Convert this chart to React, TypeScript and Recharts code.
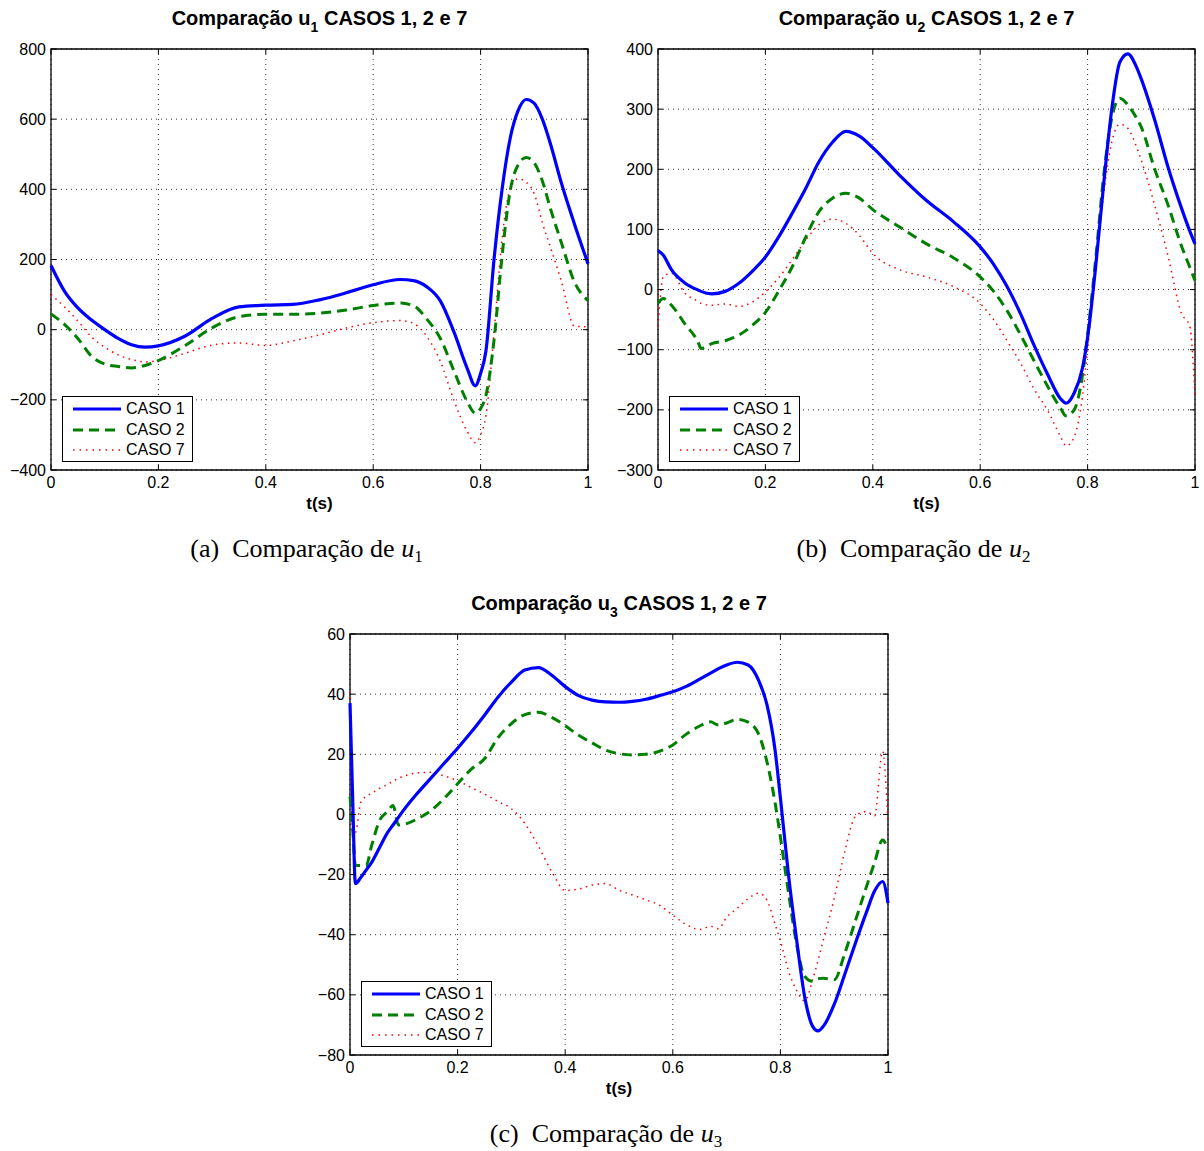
import React from 'react';
import { LineChart, Line, XAxis, YAxis, CartesianGrid, ReferenceArea } from 'recharts';

// u1
const T1 = [0, 0.025, 0.05, 0.075, 0.1, 0.125, 0.15, 0.175, 0.2, 0.25, 0.3, 0.35, 0.4, 0.45, 0.5, 0.55, 0.6, 0.65, 0.675, 0.7, 0.725, 0.75, 0.775, 0.79, 0.8, 0.81, 0.825, 0.84, 0.855, 0.87, 0.885, 0.9, 0.915, 0.93, 0.95, 0.975, 1.0];
const U1_CASO1 = [183, 110, 62, 28, 0, -25, -43, -50, -46, -18, 32, 65, 70, 72, 85, 105, 128, 143, 140, 122, 82, -5, -110, -160, -125, -60, 200, 400, 545, 625, 656, 645, 600, 530, 420, 300, 188];
const U1_CASO2 = [45, 15, -25, -75, -98, -105, -109, -102, -88, -45, 5, 37, 44, 44, 47, 56, 69, 76, 68, 30, -25, -116, -205, -238, -225, -187, -30, 210, 395, 470, 491, 475, 424, 345, 250, 135, 83];
const U1_CASO7 = [100, 65, 25, -20, -50, -72, -85, -92, -88, -67, -44, -38, -45, -32, -15, 5, 20, 26, 18, -20, -90, -200, -290, -322, -300, -245, -10, 260, 400, 430, 420, 387, 305, 235, 140, 10, 8];

// u2
const T2 = [0, 0.01, 0.025, 0.05, 0.075, 0.08, 0.1, 0.125, 0.15, 0.175, 0.2, 0.225, 0.25, 0.275, 0.3, 0.325, 0.35, 0.375, 0.4, 0.45, 0.5, 0.55, 0.6, 0.625, 0.65, 0.675, 0.7, 0.725, 0.75, 0.76, 0.775, 0.79, 0.8, 0.815, 0.83, 0.845, 0.86, 0.875, 0.89, 0.9, 0.925, 0.95, 0.975, 0.99, 1.0];
const U2_CASO1 = [65, 57, 33, 11, -1, -3, -7, -3, 10, 30, 54, 88, 127, 168, 213, 245, 263, 255, 236, 190, 148, 113, 71, 42, 5, -40, -92, -140, -182, -189, -172, -132, -80, 38, 176, 300, 378, 392, 372, 350, 282, 203, 135, 98, 76];
const U2_CASO2 = [-23, -15, -26, -57, -88, -98, -90, -85, -76, -60, -38, -2, 38, 87, 130, 152, 160, 152, 133, 104, 76, 53, 21, -3, -35, -75, -118, -160, -198, -210, -200, -145, -75, 50, 190, 285, 318, 307, 287, 270, 200, 140, 72, 38, 15];
const U2_CASO7 = [-62, 22, 27, -6, -20, -23, -26, -24, -28, -21, -4, 20, 50, 82, 108, 117, 110, 90, 60, 33, 21, 5, -23, -50, -85, -122, -165, -200, -245, -260, -245, -180, -100, 40, 160, 245, 275, 268, 240, 215, 140, 55, -40, -60, -175];

// u3
const T3 = [0, 0.005, 0.01, 0.02, 0.03, 0.04, 0.055, 0.07, 0.08, 0.09, 0.1, 0.125, 0.15, 0.175, 0.2, 0.225, 0.25, 0.275, 0.3, 0.325, 0.35, 0.375, 0.4, 0.425, 0.45, 0.475, 0.5, 0.525, 0.55, 0.575, 0.6, 0.625, 0.65, 0.67, 0.685, 0.7, 0.72, 0.74, 0.76, 0.775, 0.79, 0.8, 0.815, 0.83, 0.845, 0.86, 0.87, 0.88, 0.9, 0.92, 0.94, 0.96, 0.975, 0.99, 1.0];
const U3_CASO1 = [37, 5, -23, -21, -18.5, -16, -11, -6, -3.5, -1, 1.5, 7, 12, 17, 22, 27.3, 33, 39, 44, 48, 48.8, 46.3, 42.5, 39.5, 38, 37.4, 37.3, 37.6, 38.3, 39.5, 40.8, 42.6, 45, 47, 48.5, 49.7, 50.6, 49.7, 44.4, 36.5, 21.5, 5.5, -20, -41.5, -60.5, -70.5, -72, -70.4, -63.2, -53, -42.5, -32.5, -25.5, -22.3, -29.5];
const U3_CASO2 = [6, -5, -17, -17, -17, -10.5, -2, 1, 3, -3.5, -3.3, -1.5, 1.2, 5.3, 10.2, 15, 18.5, 25.5, 30.2, 33.2, 34, 32.3, 29.5, 26.3, 23.8, 21.4, 20.2, 19.8, 20, 21, 23.1, 26.7, 29.4, 30.8, 29.7, 30.4, 31.6, 30.7, 26.5, 17.5, 4, -7.5, -26, -43, -53.8, -55.5, -54.6, -54.5, -55, -46, -35, -24, -16, -8.5, -11.8];
const U3_CASO7 = [41, -6, -6, 4, 6, 7, 8.7, 10, 11, 12, 12.7, 13.8, 14, 12.8, 11.2, 9, 6.8, 4.3, 1.9, -3, -10.5, -19, -25.3, -24.8, -23.5, -23, -25.2, -26.8, -28.4, -30.2, -33.5, -36.6, -38.3, -37.2, -38, -34.2, -31.2, -28, -26.2, -28.5, -36.5, -42, -52, -58.5, -62, -55, -48.5, -41.6, -28, -12, -0.5, 1, -0.5, 21, -3];

const X_TICKS = [0, 0.2, 0.4, 0.6, 0.8, 1];
const Y_TICKS_1 = [-400, -200, 0, 200, 400, 600, 800];
const Y_TICKS_2 = [-300, -200, -100, 0, 100, 200, 300, 400];
const Y_TICKS_3 = [-80, -60, -40, -20, 0, 20, 40, 60];

const SANS = '"Liberation Sans", Arial, Helvetica, sans-serif';
const SERIF = '"Liberation Serif", "Times New Roman", serif';

const BLUE = '#0000ff';
const GREEN = '#008000';
const RED = '#ff0000';

const build = (t: number[], a: number[], b: number[], c: number[]) =>
  t.map((v, i) => ({ t: v, c1: a[i], c2: b[i], c7: c[i] }));

const fmt = (v: number) => String(v).replace('-', '\u2212');

interface PanelProps {
  data: { t: number; c1: number; c2: number; c7: number }[];
  yTicks: number[];
  left: number;
  top: number;
  w: number;
  h: number;
  idx: number;
  letter: string;
}

const PAD_L = 60;
const PAD_T = 10;
const PAD_R = 10;
const PAD_B = 30;
const TICK_LEN = 5;

function Legend({ x, y }: { x: number; y: number }) {
  const rows = [
    { label: 'CASO 1', color: BLUE, width: 3, dash: undefined },
    { label: 'CASO 2', color: GREEN, width: 3, dash: '10 6' },
    { label: 'CASO 7', color: RED, width: 1.5, dash: '1.5 5' },
  ];
  return (
    <div
      style={{
        position: 'absolute',
        left: x,
        top: y,
        width: 129,
        height: 64,
        border: '1px solid #000',
        background: '#fff',
        fontFamily: SANS,
        fontSize: 16,
      }}
    >
      {rows.map((r, i) => (
        <div key={r.label} style={{ position: 'absolute', left: 0, top: 2 + i * 20.5, height: 20, width: 129 }}>
          <svg width={60} height={20} style={{ position: 'absolute', left: 0, top: 0 }}>
            <line x1={10} x2={58} y1={10} y2={10} stroke={r.color} strokeWidth={r.width} strokeDasharray={r.dash} />
          </svg>
          <span style={{ position: 'absolute', left: 63, top: 1, lineHeight: '18px' }}>{r.label}</span>
        </div>
      ))}
    </div>
  );
}

function Panel({ data, yTicks, left, top, w, h, idx, letter }: PanelProps) {
  const yMin = yTicks[0];
  const yMax = yTicks[yTicks.length - 1];
  const cx = left + w / 2;

  // MATLAB-style inward ticks on all four sides
  const XTick = (p: any) => {
    const { x, y, payload } = p;
    const bottom = PAD_T + h;
    return (
      <g>
        <line x1={x} x2={x} y1={bottom} y2={bottom - TICK_LEN} stroke="#000" />
        <line x1={x} x2={x} y1={PAD_T} y2={PAD_T + TICK_LEN} stroke="#000" />
        <text x={x} y={y} dy="0.71em" textAnchor="middle" fill="#000" fontSize={16} fontFamily={SANS}>
          {fmt(payload.value)}
        </text>
      </g>
    );
  };
  const YTick = (p: any) => {
    const { x, y, payload } = p;
    return (
      <g>
        <line x1={PAD_L} x2={PAD_L + TICK_LEN} y1={y} y2={y} stroke="#000" />
        <line x1={PAD_L + w} x2={PAD_L + w - TICK_LEN} y1={y} y2={y} stroke="#000" />
        <text x={x} y={y} dy="0.35em" textAnchor="end" fill="#000" fontSize={16} fontFamily={SANS}>
          {fmt(payload.value)}
        </text>
      </g>
    );
  };

  return (
    <>
      <div
        style={{
          position: 'absolute',
          left: cx - 200,
          width: 400,
          top: top - 42,
          textAlign: 'center',
          fontFamily: SANS,
          fontWeight: 'bold',
          fontSize: 20,
          whiteSpace: 'nowrap',
        }}
      >
        Comparação u<sub style={{ fontSize: 14, verticalAlign: -7 }}>{idx}</sub> CASOS 1, 2 e 7
      </div>
      <div style={{ position: 'absolute', left: left - PAD_L, top: top - PAD_T }}>
        <LineChart
          width={w + PAD_L + PAD_R}
          height={h + PAD_T + PAD_B}
          data={data}
          margin={{ top: PAD_T, right: PAD_R, bottom: 0, left: 0 }}
        >
          <CartesianGrid stroke="#333" strokeDasharray="1 4" />
          <XAxis
            dataKey="t"
            type="number"
            domain={[0, 1]}
            ticks={X_TICKS}
            height={PAD_B}
            tickLine={false}
            axisLine={false}
            tickSize={5}
            tickMargin={2}
            tick={XTick}
            interval={0}
          />
          <YAxis
            type="number"
            domain={[yMin, yMax]}
            ticks={yTicks}
            width={PAD_L}
            tickLine={false}
            axisLine={false}
            tickSize={3}
            tickMargin={2}
            tick={YTick}
            interval={0}
            allowDataOverflow
          />
          <Line type="monotone" dataKey="c7" stroke={RED} strokeWidth={1.5} strokeDasharray="1.5 4.5" dot={false} isAnimationActive={false} />
          <Line type="monotone" dataKey="c2" stroke={GREEN} strokeWidth={3} strokeDasharray="10 6" dot={false} isAnimationActive={false} />
          <Line type="monotone" dataKey="c1" stroke={BLUE} strokeWidth={3.2} dot={false} isAnimationActive={false} />
          <ReferenceArea x1={0} x2={1} y1={yMin} y2={yMax} fill="none" stroke="#000" strokeWidth={1.3} ifOverflow="visible" />
        </LineChart>
      </div>
      <Legend x={left + 11} y={top + h - 74} />
      <div
        style={{
          position: 'absolute',
          left: cx - 50,
          width: 100,
          top: top + h + 24,
          textAlign: 'center',
          fontFamily: SANS,
          fontWeight: 'bold',
          fontSize: 17,
        }}
      >
        t(s)
      </div>
      <div
        style={{
          position: 'absolute',
          left: cx - 13 - 250,
          width: 500,
          top: top + h + 64,
          textAlign: 'center',
          fontFamily: SERIF,
          fontSize: 26,
          whiteSpace: 'nowrap',
        }}
      >
        ({letter})&nbsp; Comparação de <i>u</i>
        <sub style={{ fontSize: 17, verticalAlign: -5 }}>{idx}</sub>
      </div>
    </>
  );
}

export default function App() {
  return (
    <div style={{ position: 'absolute', left: 0, top: 0, width: 1204, height: 1151, background: '#fff' }}>
      <Panel data={build(T1, U1_CASO1, U1_CASO2, U1_CASO7)} yTicks={Y_TICKS_1} left={51} top={49} w={537} h={421} idx={1} letter="a" />
      <Panel data={build(T2, U2_CASO1, U2_CASO2, U2_CASO7)} yTicks={Y_TICKS_2} left={658} top={49} w={537} h={421} idx={2} letter="b" />
      <Panel data={build(T3, U3_CASO1, U3_CASO2, U3_CASO7)} yTicks={Y_TICKS_3} left={350} top={634} w={538} h={421} idx={3} letter="c" />
    </div>
  );
}
